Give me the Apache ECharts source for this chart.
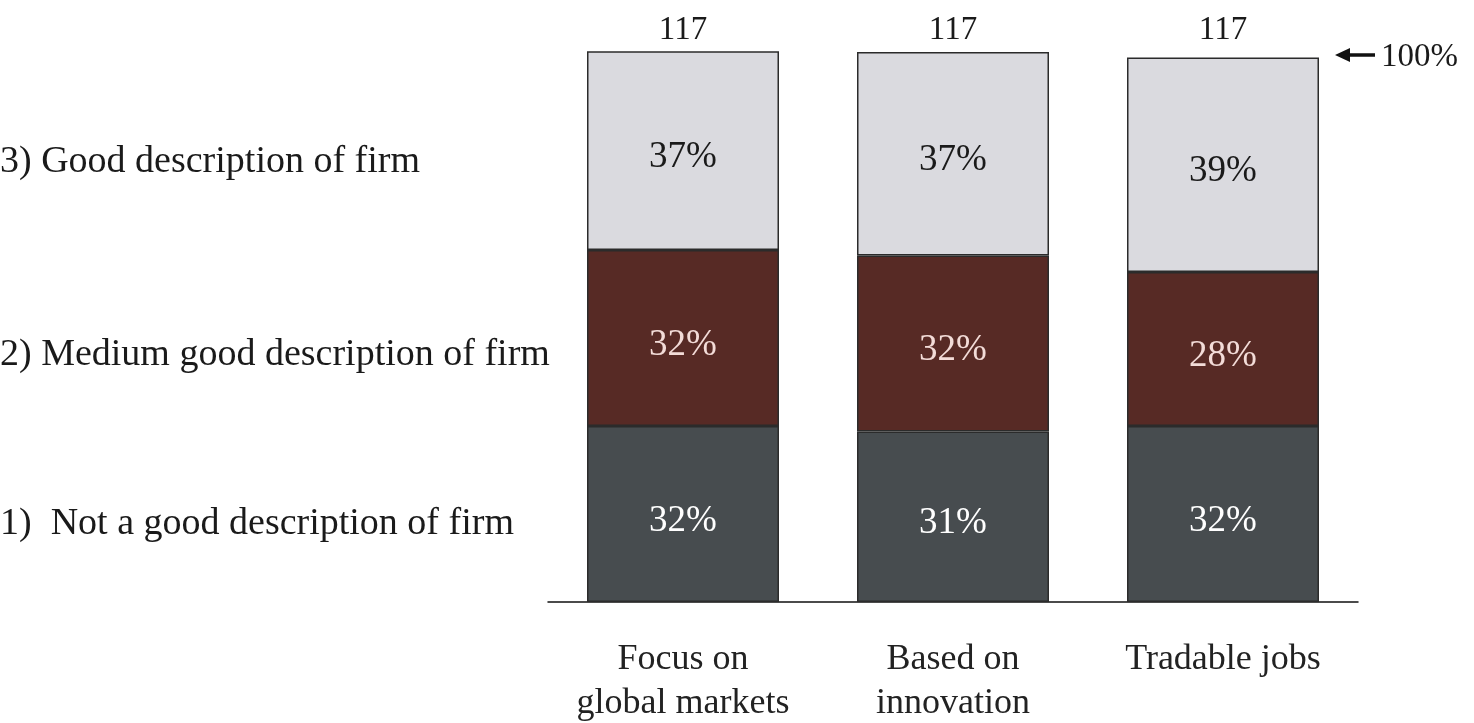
<!DOCTYPE html>
<html>
<head>
<meta charset="utf-8">
<script src="https://cdn.jsdelivr.net/npm/echarts@6/dist/echarts.min.js"></script>
<style>
  html, body { margin: 0; padding: 0; background: #ffffff; }
  #chart { width: 1474px; height: 723px; }
</style>
</head>
<body>
<div id="chart"></div>
<script>
// Survey answers per statement, in percent of respondents
const categories = ['Focus on\nglobal markets', 'Based on\ninnovation', 'Tradable jobs'];
const notGood = [32, 31, 32];
const mediumGood = [32, 32, 28];
const good = [37, 37, 39];
const sampleSizes = [117, 117, 117];
const levelNames = [
  '1)  Not a good description of firm',
  '2) Medium good description of firm',
  '3) Good description of firm'
];

const FONT = '"Liberation Serif", "Times New Roman", serif';
const chart = echarts.init(document.getElementById('chart'));

function segment(name, values, fill, textColor) {
  return {
    name: name,
    type: 'bar',
    stack: 'total',
    barWidth: 192,
    data: values,
    itemStyle: { color: fill, borderColor: '#2b2b2b', borderWidth: 1.5 },
    label: {
      show: true,
      position: 'inside',
      offset: [0, 7],
      formatter: p => p.value + '%',
      color: textColor,
      fontFamily: FONT,
      fontSize: 37
    },
    emphasis: { disabled: true },
    animation: false
  };
}

chart.setOption({
  animation: false,
  grid: { left: 548, right: 116, top: 52, bottom: 121, outerBoundsMode: 'none', containLabel: false },
  xAxis: {
    type: 'category',
    data: categories,
    axisLine: { lineStyle: { color: '#111', width: 1.5 } },
    axisTick: { show: false },
    axisLabel: {
      interval: 0,
      hideOverlap: false,
      margin: 36,
      color: '#222',
      fontFamily: FONT,
      fontSize: 36,
      lineHeight: 44
    }
  },
  yAxis: {
    type: 'value',
    min: 0,
    max: 100,
    show: false,
    splitLine: { show: false }
  },
  series: [
    segment(levelNames[0], notGood, '#474c4f', '#ffffff'),
    segment(levelNames[1], mediumGood, '#572a25', '#f3dcd8'),
    segment(levelNames[2], good, '#dadadf', '#1a1a1a')
  ]
});

// Annotations placed through the chart's own coordinate system
function annotate() {
  const els = [];
  // sample size above each bar, level with the 100% line
  categories.forEach((c, i) => {
    const pt = chart.convertToPixel({ seriesIndex: 0 }, [i, 100]);
    els.push({
      type: 'text',
      x: pt[0], y: pt[1] - 5,
      style: {
        text: String(sampleSizes[i]),
        fill: '#1a1a1a', font: '33px ' + FONT,
        align: 'center', verticalAlign: 'bottom'
      }
    });
  });
  // level names on the left, one per answer band
  const nameY = [524, 355, 162];
  levelNames.forEach((t, k) => {
    els.push({
      type: 'text',
      x: 0, y: nameY[k],
      style: {
        text: t,
        fill: '#1a1a1a', font: '38px ' + FONT,
        align: 'left', verticalAlign: 'middle'
      }
    });
  });
  // 100% marker on the right
  const last = categories.length - 1;
  const ref = chart.convertToPixel({ seriesIndex: 0 }, [last, 100]);
  const xs = ref[0] + 112;
  const y = ref[1] + 3;
  els.push({
    type: 'line',
    shape: { x1: xs + 10, y1: y, x2: xs + 40, y2: y },
    style: { stroke: '#111', lineWidth: 3.5 }
  });
  els.push({
    type: 'polygon',
    shape: { points: [[xs, y], [xs + 15, y - 7], [xs + 15, y + 7]] },
    style: { fill: '#111' }
  });
  els.push({
    type: 'text',
    x: xs + 46, y: y + 2,
    style: {
      text: '100%', fill: '#1a1a1a', font: '33px ' + FONT,
      align: 'left', verticalAlign: 'middle'
    }
  });
  chart.setOption({ graphic: { elements: els } });
}
annotate();
</script>
</body>
</html>
